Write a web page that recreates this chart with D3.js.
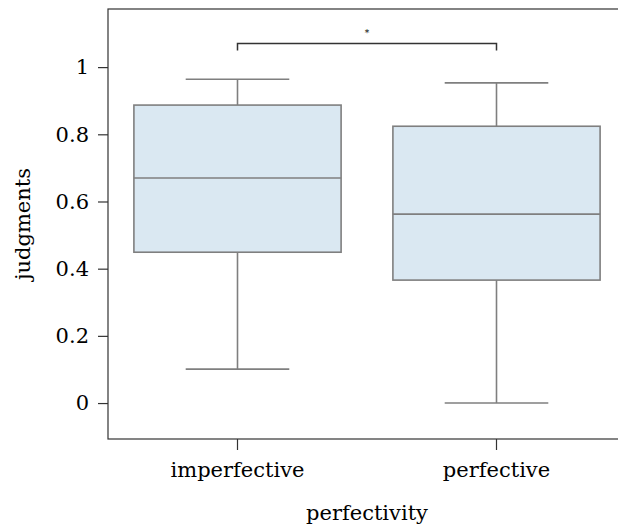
<!DOCTYPE html>
<html>
<head>
<meta charset="utf-8">
<script src="https://d3js.org/d3.v7.min.js"></script>
<style>
  body { margin: 0; background: white; }
  text { font-family: "DejaVu Serif", serif; fill: #000; }
</style>
</head>
<body>
<svg id="plot"></svg>
<script>
// data
var categories = ["imperfective", "perfective"]
var whiskerLow = [0.101, 0.0]
var q1 = [0.449, 0.366]
var medians = [0.670, 0.5625]
var q3 = [0.887, 0.824]
var whiskerHigh = [0.964, 0.953]
var yTicks = [0, 0.2, 0.4, 0.6, 0.8, 1]
var sigLabel = "*"

var width = 618, height = 531
var margins = { left: 108, top: 9, right: -8, bottom: 92 }
var innerW = width - margins.left - margins.right
var innerH = height - margins.top - margins.bottom

var svg = d3.select("#plot").attr("width", width).attr("height", height)
var g = svg.append("g").attr("transform", "translate(" + margins.left + "," + margins.top + ")")

var x = d3.scaleBand().domain(categories).range([0, innerW]).paddingInner(0.2).paddingOuter(0.1)
var xc = function (c) { return x(c) + x.bandwidth() / 2 }
var y = d3.scaleLinear().domain([-0.107, 1.173]).range([innerH, 0])

// frame (top + left + bottom, right is off the page)
g.append("rect")
  .attr("x", 0).attr("y", 0).attr("width", innerW).attr("height", innerH)
  .attr("fill", "none").attr("stroke", "#333").attr("stroke-width", 1.2)

var boxColor = "#7f7f7f"
var capW = x.bandwidth() / 2

categories.forEach(function (c, i) {
  var cx = xc(c)
  // whiskers
  g.append("line").attr("x1", cx).attr("x2", cx).attr("y1", y(q3[i])).attr("y2", y(whiskerHigh[i]))
    .attr("stroke", boxColor).attr("stroke-width", 1.6)
  g.append("line").attr("x1", cx).attr("x2", cx).attr("y1", y(q1[i])).attr("y2", y(whiskerLow[i]))
    .attr("stroke", boxColor).attr("stroke-width", 1.6)
  g.append("line").attr("x1", cx - capW / 2).attr("x2", cx + capW / 2)
    .attr("y1", y(whiskerHigh[i])).attr("y2", y(whiskerHigh[i]))
    .attr("stroke", boxColor).attr("stroke-width", 1.6)
  g.append("line").attr("x1", cx - capW / 2).attr("x2", cx + capW / 2)
    .attr("y1", y(whiskerLow[i])).attr("y2", y(whiskerLow[i]))
    .attr("stroke", boxColor).attr("stroke-width", 1.6)
  // box
  g.append("rect")
    .attr("x", x(c)).attr("width", x.bandwidth())
    .attr("y", y(q3[i])).attr("height", y(q1[i]) - y(q3[i]))
    .attr("fill", "#dae8f2").attr("stroke", boxColor).attr("stroke-width", 1.6)
  // median
  g.append("line").attr("x1", x(c)).attr("x2", x(c) + x.bandwidth())
    .attr("y1", y(medians[i])).attr("y2", y(medians[i]))
    .attr("stroke", boxColor).attr("stroke-width", 1.6)
})

// significance bracket
var by = y(1.07)
g.append("path")
  .attr("d", "M" + xc(categories[0]) + "," + (by + 7) + "V" + by + "H" + xc(categories[1]) + "V" + (by + 7))
  .attr("fill", "none").attr("stroke", "#333").attr("stroke-width", 1.5)
g.append("text")
  .attr("x", (xc(categories[0]) + xc(categories[1])) / 2).attr("y", by - 8)
  .attr("text-anchor", "middle").attr("font-size", 9).text(sigLabel)

// axes
var yAxis = g.append("g").call(d3.axisLeft(y).tickValues(yTicks).tickSize(10).tickPadding(9)
  .tickFormat(function (d) { return d3.format("")(+d.toFixed(1)) }))
var xAxis = g.append("g").attr("transform", "translate(0," + innerH + ")")
  .call(d3.axisBottom(x).tickSize(11).tickPadding(12))
;[yAxis, xAxis].forEach(function (a) {
  a.select(".domain").remove()
  a.selectAll(".tick line").attr("stroke", "#333").attr("stroke-width", 1.2)
  a.selectAll(".tick text").attr("font-family", "DejaVu Serif").attr("font-size", 21).attr("fill", "#000")
})

svg.append("text").attr("text-anchor", "middle")
  .attr("transform", "translate(30," + (margins.top + innerH / 2) + ")rotate(-90)")
  .attr("font-size", 21).text("judgments")
svg.append("text").attr("text-anchor", "middle")
  .attr("x", (xc(categories[0]) + xc(categories[1])) / 2 + margins.left).attr("y", 520)
  .attr("font-size", 21).text("perfectivity")
</script>
</body>
</html>
